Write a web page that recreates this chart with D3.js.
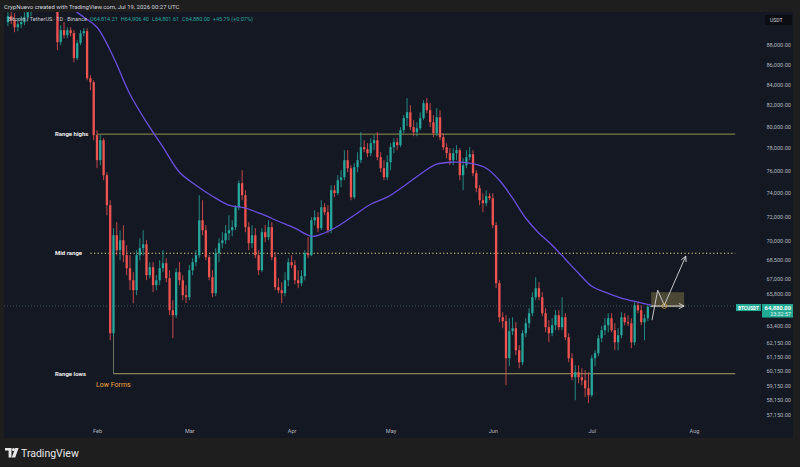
<!DOCTYPE html>
<html><head><meta charset="utf-8">
<script src="https://cdn.jsdelivr.net/npm/d3@7"></script>
<style>html,body{margin:0;padding:0;background:#1e1e1e;}svg{display:block}</style>
</head><body>
<svg id="c" width="800" height="467"></svg>
<script>
// ---------- DATA ----------
const firstCandle = "2026-01-05";
const opens = [
90320,90950,90530,89790,90110,90320,90840,91380,91910,92880,
93800,95100,96200,95400,95900,93100,88240,89480,88960,89480,
89170,86610,88140,89170,89375,84610,84220,79175,76900,78710,
75565,72970,62857,70460,69240,70050,68840,67805,66862,66087,
68840,69405,69730,67255,67885,66475,66862,67805,68200,67020,
64564,64190,67490,66862,65704,65550,67646,68280,68840,71704,
70873,68680,67100,65857,69000,69810,70052,70625,70873,71125,
72800,74865,73825,71125,69810,70460,68840,67646,70710,70300,
71125,68680,66320,66087,65857,66862,68280,68045,66862,66630,
67180,69000,68840,71704,71955,71040,72800,72375,70873,74256,
74000,75126,75390,76898,76185,73655,76275,76898,78075,77890,
77530,78440,78712,77170,76185,75390,76720,78075,78530,78255,
79635,80760,81320,79920,79450,79820,80760,82180,81513,80380,
79360,80850,78990,78075,77530,76898,77530,77800,75565,76450,
77170,77440,75745,74430,73396,73140,73740,73570,71290,66630,
64040,63742,61052,63004,63225,61623,60768,62857,63594,64340,
65550,66242,65550,64340,63300,62857,63447,64190,63300,64040,
62565,61052,59715,60064,59715,59506,58955,58476,61052,61409,
62491,63077,63447,63966,63077,62200,62711,64040,63668,63594,
62200,64943,64564,63668,63966,64814.21];
const highs = [
91380,91590,91270,90740,90950,91380,91810,92340,93200,94600,
95600,97100,96900,96500,96100,93530,90000,90320,89790,89790,
89480,88440,89480,89690,89690,84910,84410,79635,79175,78900,
75830,73400,71040,71540,70870,71290,69650,68840,67490,69240,
70215,70870,70050,68280,68280,67255,68440,69240,68600,67646,
65321,67805,68280,67255,66475,68045,68600,69240,73825,73396,
71290,68840,67646,69405,70215,70710,71290,72125,71704,72970,
75126,76007,74256,71540,71290,71040,69241,71040,71290,71704,
71540,69080,67020,66707,67490,68600,68840,68438,67646,67646,
69241,70300,71955,72545,72375,73396,73140,72970,74690,74690,
75565,76007,77800,77800,76450,76630,77620,79450,78712,78440,
78900,79175,79450,77620,76898,77350,78440,78900,78900,79920,
81040,82660,81990,80568,80380,81320,82468,82660,82180,81040,
81700,81513,79360,78440,77985,77985,78255,77985,77080,77800,
78075,77800,76007,74690,74000,74256,74000,74000,71540,66862,
64414,64190,63966,64040,63668,61984,63077,63966,64716,65934,
67100,66707,65934,64716,63816,63966,64564,64564,65550,64340,
62857,61409,60556,60556,60344,60203,60064,61266,61623,62711,
63373,63966,64340,64340,63594,63225,64414,64340,64190,63966,
65170,65170,64943,64265,64943,64906.40];
const lows = [
89900,90110,89270,89375,89690,90000,90420,90950,91380,92600,
93400,94700,94900,94800,92800,87420,87930,88640,88640,88850,
86200,86400,87930,88850,84410,83435,78710,76185,76450,75130,
72125,62345,62640,68840,68440,68280,67255,66087,65094,65704,
68440,68840,66862,67020,65934,66087,66475,67490,66707,64190,
62491,63966,66475,65321,65094,65321,67255,67965,68600,70460,
68438,66862,65550,65627,68280,69405,69730,70052,70380,70873,
72545,73396,70710,69241,69405,68600,67255,67490,69890,70052,
68438,66087,65857,65094,65627,66397,67805,66552,66242,66397,
66862,68600,68760,71290,70710,70873,72125,70625,70625,73655,
73825,74515,75126,75830,73396,73485,75830,76630,77620,77170,
77260,77800,76898,75830,75126,75126,76007,77530,77800,78075,
79360,80010,79635,79080,79080,79635,80568,81230,79920,78990,
79080,78712,77800,77080,76450,76450,76898,75126,74256,76185,
76898,75480,74085,72970,72375,72885,73396,71040,66242,63668,
63225,59160,60485,62711,61266,60344,60556,62565,63225,64115,
65321,65321,64115,62930,62200,62638,63077,63077,63077,62345,
60768,59506,58135,59300,59160,58340,57933,58340,60485,61195,
62200,62711,62930,62930,61623,61623,62491,63447,63373,61767,
61984,64340,63447,62345,63742,64801.61];
const closes = [
90950,90530,89790,90110,90320,90840,91380,91910,92880,93800,
95100,96200,95400,95900,93100,88240,89480,88960,89480,89170,
86610,88140,89170,89375,84610,84220,79175,76900,78710,75565,
72970,62857,70460,69240,70050,68840,67805,66862,66087,68840,
69405,69730,67255,67885,66475,66862,67805,68200,67020,64564,
64190,67490,66862,65704,65550,67646,68280,68840,71704,70873,
68680,67100,65857,69000,69810,70052,70625,70873,71125,72800,
74865,73825,71125,69810,70460,68840,67646,70710,70300,71125,
68680,66320,66087,65857,66862,68280,68045,66862,66630,67180,
69000,68840,71704,71955,71040,72800,72375,70873,74256,74000,
75126,75390,76898,76185,73655,76275,76898,78075,77890,77530,
78440,78712,77170,76185,75390,76720,78075,78530,78255,79635,
80760,81320,79920,79450,79820,80760,82180,81513,80380,79360,
80850,78990,78075,77530,76898,77530,77800,75565,76450,77170,
77440,75745,74430,73396,73140,73740,73570,71290,66630,64040,
63742,61052,63004,63225,61623,60768,62857,63594,64340,65550,
66242,65550,64340,63300,62857,63447,64190,63300,64040,62565,
61052,59715,60064,59715,59506,58955,58476,61052,61409,62491,
63077,63447,63966,63077,62200,62711,64040,63668,63594,62200,
64943,64564,63668,63966,64814,64880.00];

const maDates = ["2026-01-22","2026-01-25","2026-01-28","2026-02-01","2026-02-06","2026-02-11","2026-02-16","2026-02-21","2026-02-26",
 "2026-03-03","2026-03-08","2026-03-13","2026-03-18","2026-03-23","2026-03-28","2026-04-02","2026-04-07","2026-04-10","2026-04-15",
 "2026-04-20","2026-04-25","2026-04-30","2026-05-05","2026-05-10","2026-05-15","2026-05-20","2026-05-25","2026-05-30","2026-06-03",
 "2026-06-07","2026-06-11","2026-06-15","2026-06-19","2026-06-23","2026-06-27","2026-07-01","2026-07-05","2026-07-10","2026-07-15","2026-07-19"];
const maValues = [93500,91700,90840,89790,86710,83040,80380,78075,75830,
 74690,73740,72970,72715,72210,71620,71040,70380,70545,71205,
 72125,73055,73655,74600,75655,76540,76720,76630,76185,75126,
 73570,71870,70625,69650,68520,67410,66397,65934,65475,65170,64943];

const priceTicks = [88000,86000,84000,82000,80000,78000,76000,74000,72000,70000,68500,67000,65800,63400,62150,61150,60150,59150,58150,57150];
const monthTicks = ["2026-02-01","2026-03-01","2026-04-01","2026-05-01","2026-06-01","2026-07-01","2026-08-01"];

const levelNames = ["Range highs","Mid range","Range lows"];
const levelPrices = [79270, 69000, 59960];
const levelStarts = ["2026-02-01","2026-01-30","2026-02-06"];
const levelEnd = "2026-08-13T12:00:00Z";
const lowFormsDate = "2026-02-06";
const lowFormsRange = [62857, 59960];

const lastPrice = 64880.00;
const projBox = [["2026-07-19", 65934], ["2026-07-29", 64790]];
const projPath = [["2026-07-19T06:00:00Z", 63816], ["2026-07-21", 66087], ["2026-07-23", 64943], ["2026-07-29T12:00:00Z", 68760]];
const projArrow = [["2026-07-19", 64880], ["2026-07-29", 64880]];
const projDot = ["2026-07-23", 64880];

// ---------- DRAW ----------
const W = 800, H = 467;
const font = "Roboto, 'Liberation Sans', sans-serif";
const svg = d3.select("#c");
const P = s => new Date(s.length === 10 ? s + "T00:00:00Z" : s);

svg.append("rect").attr("width", W).attr("height", H).attr("fill", "#1e1e1e");
svg.append("rect").attr("x", 4).attr("y", 12).attr("width", 789).attr("height", 426).attr("fill", "#141823");

const x = d3.scaleUtc().domain([P("2026-02-01"), P("2026-08-01")]).range([97, 694]);
const y = d3.scaleLog().domain([57150, 88000]).range([414.9, 44.5]);

const defs = svg.append("defs");
defs.append("clipPath").attr("id", "plot").append("rect").attr("x", 4).attr("y", 12).attr("width", 741).attr("height", 408);
const mk = defs.append("marker").attr("id", "arr").attr("viewBox", "0 0 8 8").attr("refX", 7).attr("refY", 4)
  .attr("markerWidth", 7).attr("markerHeight", 7).attr("markerUnits", "userSpaceOnUse").attr("orient", "auto");
mk.append("path").attr("d", "M1,1 L7,4 L1,7").attr("fill", "none").attr("stroke", "#d8d8d8").attr("stroke-width", 1);

const plot = svg.append("g").attr("clip-path", "url(#plot)");

// last price line
plot.append("line").attr("x1", 4).attr("x2", 745).attr("y1", y(lastPrice)).attr("y2", y(lastPrice))
  .attr("stroke", "#4f6f6c").attr("stroke-width", 0.7).attr("stroke-dasharray", "1,2");

// levels
const levelColors = ["#a49f55", "#e4dc86", "#b5ae6a"];
levelPrices.forEach((p, i) => {
  plot.append("line").attr("x1", x(P(levelStarts[i]))).attr("x2", x(P(levelEnd)))
    .attr("y1", y(p)).attr("y2", y(p)).attr("stroke", levelColors[i])
    .attr("stroke-width", i === 1 ? 1.1 : 0.9)
    .attr("stroke-dasharray", i === 1 ? "1.2,2.4" : null);
});
plot.append("line").attr("x1", x(P(lowFormsDate))).attr("x2", x(P(lowFormsDate)))
  .attr("y1", y(lowFormsRange[0])).attr("y2", y(lowFormsRange[1])).attr("stroke", "#7f8a72").attr("stroke-width", 0.8);

// candles
const start = P(firstCandle);
const candles = closes.map((c, i) => ({ d: d3.utcDay.offset(start, i), o: opens[i], h: highs[i], l: lows[i], c }));
const up = "#26a69a", dn = "#ef5350";
const cg = plot.append("g");
cg.selectAll("line.w").data(candles).join("line")
  .attr("x1", d => x(d.d)).attr("x2", d => x(d.d)).attr("y1", d => y(d.h)).attr("y2", d => y(d.l))
  .attr("stroke", d => d.c >= d.o ? up : dn).attr("stroke-width", 0.8);
cg.selectAll("rect").data(candles).join("rect")
  .attr("x", d => x(d.d) - 1.15).attr("width", 2.3)
  .attr("y", d => y(Math.max(d.o, d.c)))
  .attr("height", d => Math.max(0.8, Math.abs(y(d.o) - y(d.c))))
  .attr("fill", d => d.c >= d.o ? up : dn);

// moving average
plot.append("path").datum(maDates.map((d, i) => [P(d), maValues[i]]))
  .attr("d", d3.line().x(d => x(d[0])).y(d => y(d[1])).curve(d3.curveCatmullRom))
  .attr("fill", "none").attr("stroke", "#6a4fe0").attr("stroke-width", 1.3);

// projection
plot.append("rect").attr("x", x(P(projBox[0][0]))).attr("y", y(projBox[0][1]))
  .attr("width", x(P(projBox[1][0])) - x(P(projBox[0][0]))).attr("height", y(projBox[1][1]) - y(projBox[0][1]))
  .attr("fill", "rgba(190,170,90,0.32)");
plot.append("path").datum(projArrow).attr("d", d3.line().x(d => x(P(d[0]))).y(d => y(d[1])))
  .attr("fill", "none").attr("stroke", "#d8d8d8").attr("stroke-width", 1).attr("marker-end", "url(#arr)");
plot.append("path").datum(projPath).attr("d", d3.line().x(d => x(P(d[0]))).y(d => y(d[1])))
  .attr("fill", "none").attr("stroke", "#d8d8d8").attr("stroke-width", 0.9).attr("marker-end", "url(#arr)");
plot.append("circle").attr("cx", x(P(projDot[0]))).attr("cy", y(projDot[1])).attr("r", 2.4)
  .attr("fill", "none").attr("stroke", "#c9a43a").attr("stroke-width", 0.8);

// level labels
levelNames.forEach((n, i) => {
  svg.append("text").attr("x", 55).attr("y", y(levelPrices[i]) + 2).text(n)
    .attr("fill", "#f0f0f0").attr("font-family", font).attr("font-size", 6).attr("font-weight", "bold");
});
svg.append("text").attr("x", 96).attr("y", y(lowFormsRange[1]) + 13).text("Low Forms")
  .attr("fill", "#f2a33a").attr("font-family", font).attr("font-size", 7);

// price axis
const ya = svg.append("g").attr("transform", "translate(791,0)")
  .call(d3.axisLeft(y).tickValues(priceTicks).tickSize(0).tickPadding(0).tickFormat(d3.format(",.2f")));
ya.select(".domain").remove();
ya.selectAll("text").attr("fill", "#b2b5be").attr("font-family", font).attr("font-size", 5.6);

// time axis
const xa = svg.append("g").attr("transform", "translate(0,426)")
  .call(d3.axisBottom(x).tickValues(monthTicks.map(P)).tickSize(0).tickPadding(3).tickFormat(d3.utcFormat("%b")));
xa.select(".domain").remove();
xa.selectAll("text").attr("fill", "#b2b5be").attr("font-family", font).attr("font-size", 5.6);

// USDT box
svg.append("rect").attr("x", 765).attr("y", 15).attr("width", 27).attr("height", 10).attr("rx", 1).attr("fill", "#0b0d12");
svg.append("text").attr("x", 770).attr("y", 22).text("USDT").attr("fill", "#d1d4dc").attr("font-family", font).attr("font-size", 5);

// last price labels
const ly = y(lastPrice);
svg.append("rect").attr("x", 736).attr("y", ly - 2).attr("width", 25).attr("height", 7).attr("fill", "#22ab94");
svg.append("text").attr("x", 748.5).attr("y", ly + 3.5).attr("text-anchor", "middle").text("BTCUSDT")
  .attr("fill", "#ffffff").attr("font-family", font).attr("font-size", 4.8).attr("font-weight", "bold");
svg.append("rect").attr("x", 762).attr("y", ly - 2).attr("width", 31).attr("height", 13.5).attr("fill", "#22ab94");
svg.append("text").attr("x", 791).attr("y", ly + 3.8).attr("text-anchor", "end").text(d3.format(",.2f")(lastPrice))
  .attr("fill", "#ffffff").attr("font-family", font).attr("font-size", 5.8).attr("font-weight", "bold");
svg.append("text").attr("x", 791).attr("y", ly + 10).attr("text-anchor", "end").text("23:32:57")
  .attr("fill", "#e8f5f3").attr("font-family", font).attr("font-size", 5.4);

// header texts
svg.append("text").attr("x", 4).attr("y", 9).text("CrypNuevo created with TradingView.com, Jul 19, 2026 00:27 UTC")
  .attr("fill", "#d1d4dc").attr("font-family", font).attr("font-size", 6);
const leg = svg.append("text").attr("x", 8).attr("y", 21).attr("font-family", font).attr("font-size", 5.5);
leg.append("tspan").text("Bitcoin / TetherUS · 1D · Binance").attr("fill", "#c8cbd3");
const last = candles[candles.length - 1];
const f2 = d3.format(",.2f");
[["O", last.o], ["H", last.h], ["L", last.l], ["C", last.c]].forEach(([k, v], i) => {
  leg.append("tspan").attr("dx", i === 0 ? 3 : 3).text(k).attr("fill", "#26a69a");
  leg.append("tspan").text(f2(v)).attr("fill", "#26a69a");
});
leg.append("tspan").attr("dx", 3).text("+45.79 (+0.07%)").attr("fill", "#26a69a");

// footer logo
const lg = svg.append("g").attr("fill", "#e8e8e8");
lg.append("path").attr("d", "M5,448 H11.5 V457.5 H8.6 V450.6 H5 Z");
lg.append("circle").attr("cx", 13.4).attr("cy", 449.6).attr("r", 1.5);
lg.append("path").attr("d", "M15.2,448 H18.6 L15.2,457.5 H11.8 Z");
svg.append("text").attr("x", 21).attr("y", 457).text("TradingView").attr("fill", "#e8e8e8")
  .attr("font-family", font).attr("font-size", 10.5);
</script>
</body></html>
